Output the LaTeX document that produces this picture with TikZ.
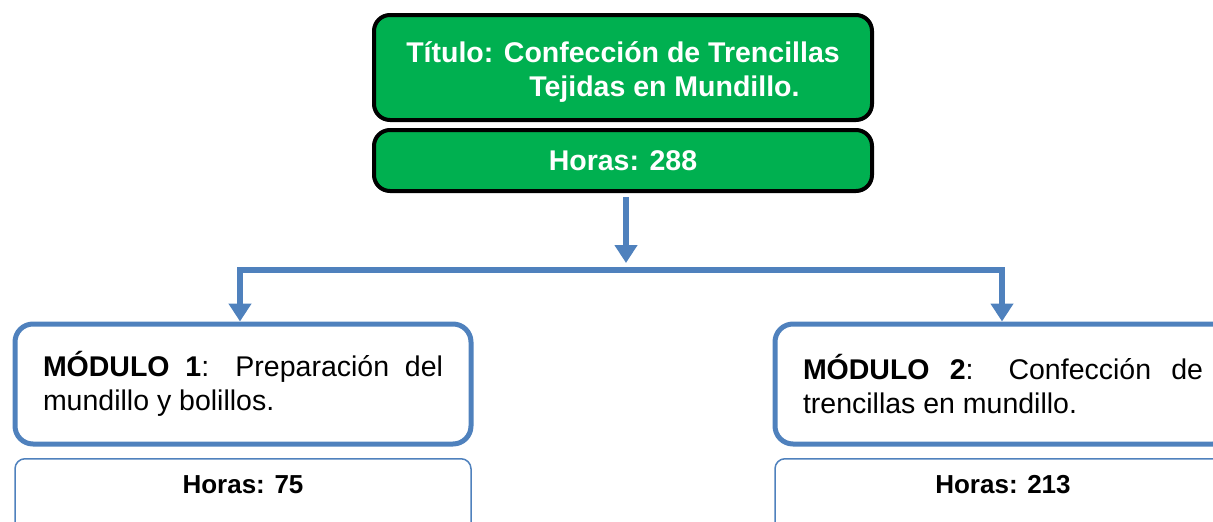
\documentclass[tikz,border=0pt]{standalone}
\usepackage{fontspec}
\setmainfont{Liberation Sans}
\usetikzlibrary{arrows.meta}
\definecolor{titlegreen}{HTML}{00B050}
\definecolor{flowblue}{HTML}{4F81BD}

\begin{document}
\begin{tikzpicture}[x=1pt,y=-1pt]
    \tikzstyle{every node}=[font=\fontsize{28.5}{34}\selectfont]
    \tikzstyle{title box}=[draw=black, line width=4pt, fill=titlegreen, rounded corners=16pt, text=white, font=\fontsize{28.5}{34}\selectfont\bfseries, minimum width=498pt, inner sep=0pt]
    \tikzstyle{module}=[draw=flowblue, line width=5pt, rounded corners=18pt, minimum width=456pt, minimum height=120pt, text width=400pt, inner xsep=28pt, align=justify]
    \tikzstyle{hours}=[draw=flowblue, line width=1.5pt, rounded corners=10pt, minimum width=456pt, inner sep=0pt, text height=35pt, text depth=50pt, font=\fontsize{26}{30}\selectfont\bfseries]
    \tikzstyle{bus}=[draw=flowblue, line width=6pt]
    \tikzstyle{flow}=[bus, -{Triangle[width=22pt,length=18pt]}]

    \clip (0,0) rectangle (1213,522);

    % Draw the title and its total hours
    \node[title box, minimum height=105pt, align=left] (title) at (623,67.5)
        {\rule{0pt}{30pt}Título: Confección de Trencillas\\\hspace*{123pt}Tejidas en Mundillo.};
    \node[title box, minimum height=61pt] (hrs) at (623,160.5) {Horas: 288};

    % The branching line
    \coordinate (split) at (626,263);
    \coordinate (bus1) at (240,270);
    \coordinate (bus2) at (1002,270);
    \draw[flow, shorten <=4pt] (hrs.south -| split) -- (split);
    \draw[bus] (bus1) -- (bus2);

    % Draw the modules, their hours, and connect them to the line
    \foreach \name/\x/\txt/\hrs in {1/243/{Preparación del mundillo y bolillos.}/75,
                                     2/1003/{Confección de trencillas en mundillo.}/213}
    {
        \node[module] (m\name) at (\x,384) {\textbf{MÓDULO \name}: \txt\par\vspace{8pt}};
        \node[hours, anchor=north] (h\name) at (\x,458) {Horas: \hrs};
        \draw[flow] ([yshift=3pt]bus\name) -- (bus\name |- m\name.north);
    }
\end{tikzpicture}
\end{document}
